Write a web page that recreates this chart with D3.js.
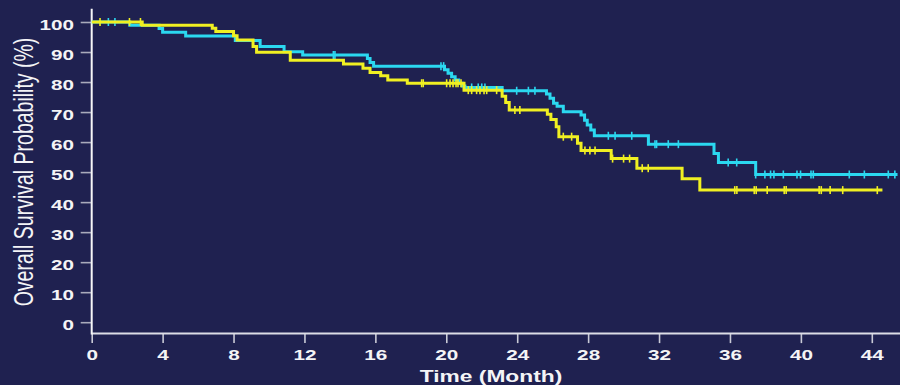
<!DOCTYPE html>
<html>
<head>
<meta charset="utf-8">
<script src="https://cdn.jsdelivr.net/npm/d3@7/dist/d3.min.js"></script>
<style>
  html, body { margin: 0; padding: 0; background: #1f2150; }
  svg { display: block; }
</style>
</head>
<body>
<svg id="km" width="900" height="385"></svg>
<script>
// Kaplan–Meier overall survival, two groups (cyan and yellow curves)

// Axis ticks
const xTicks = [0, 4, 8, 12, 16, 20, 24, 28, 32, 36, 40, 44];
const yTicks = [0, 10, 20, 30, 40, 50, 60, 70, 80, 90, 100];

// Cyan group: event times (months) and survival (%) after each step
const cyanTimes = [0, 2.15, 3.8, 4.0, 5.3, 8.1, 9.5, 10.85, 11.9, 15.55, 15.7, 15.9,
  19.9, 20.1, 20.3, 20.5, 20.7, 20.9, 21.05, 23.15, 25.65, 25.85, 26.05, 26.25, 26.6,
  27.6, 27.8, 27.95, 28.15, 28.35, 31.4, 35.1, 35.35, 37.45];
const cyanSurv = [100, 98.9, 97.8, 96.6, 95.3, 93.8, 91.8, 90.1, 89.0, 87.8, 86.5, 85.3,
  84.1, 82.9, 81.8, 80.7, 79.6, 78.7, 78.2, 77.1, 76.0, 74.6, 72.9, 71.9, 70.1,
  69.0, 67.3, 65.7, 64.0, 62.1, 59.3, 56.2, 53.2, 49.2];
const cyanEnd = 45.45;
const cyanCensored = [0.94, 1.31, 13.63, 13.72, 19.7, 19.85, 21.43, 21.8, 22.0, 22.18,
  23.97, 24.63, 25.0, 29.14, 29.52, 30.46, 31.77, 31.86, 32.52, 33.09, 35.9, 36.38,
  37.45, 37.97, 38.29, 38.48, 39.01, 39.78, 39.98, 40.57, 40.7, 42.73, 43.58, 44.93, 45.3];

// Yellow group
const yellowTimes = [0, 2.85, 6.8, 7.0, 8.0, 8.2, 9.1, 9.3, 11.2, 14.2, 15.3, 15.7,
  16.3, 16.7, 17.8, 21.0, 23.15, 23.35, 23.55, 25.7, 25.9, 26.2, 26.35, 27.4, 27.6,
  29.3, 30.75, 33.3, 34.3];
const yellowSurv = [100, 98.9, 97.9, 96.8, 95.4, 94.0, 91.8, 89.9, 87.3, 86.0, 84.6, 83.2,
  82.1, 80.7, 79.6, 77.3, 75.3, 73.2, 70.7, 69.3, 67.5, 65.1, 61.8, 59.6, 57.2,
  54.5, 51.3, 47.8, 44.0];
const yellowEnd = 44.6;
const yellowCensored = [0.47, 2.13, 2.75, 18.61, 18.7, 20.02, 20.21, 20.38, 20.55, 20.66,
  20.83, 21.24, 21.43, 21.71, 21.9, 22.13, 22.28, 22.84, 23.87, 24.15, 26.6, 27.07,
  27.82, 28.1, 28.39, 29.38, 30.0, 30.34, 31.05, 31.39, 36.27, 36.39, 37.37, 37.48,
  38.1, 39.06, 39.17, 41.03, 41.15, 41.65, 42.36, 44.31];

const W = 900, H = 385;
const stretch = 1.38;           // text is drawn horizontally widened
const svg = d3.select("#km");

const x = d3.scaleLinear().domain([0, 44]).range([91.7, 871.8]);
const y = d3.scaleLinear().domain([0, 100]).range([322.2, 22]);
const axisY = y(-3.8);          // baseline of the x axis
const axisTop = y(104.4);

svg.append("rect").attr("width", W).attr("height", H).attr("fill", "#1f2150");

// ---- Axes ----
const font = "'Liberation Sans', Arial, Helvetica, sans-serif";

const gy = svg.append("g").attr("transform", `translate(${x(0)},0)`)
  .call(d3.axisLeft(y).tickValues(yTicks).tickSize(11).tickSizeOuter(0));
gy.select(".domain").remove();
gy.selectAll(".tick line").attr("stroke", "#a9aabb").attr("stroke-width", 1.6);
gy.selectAll(".tick text")
  .attr("x", -17.7 / stretch).attr("dy", null).attr("y", 7.6)
  .attr("transform", `scale(${stretch},1)`)
  .attr("fill", "#f4f4f6").attr("font-family", font)
  .attr("font-weight", "bold").attr("font-size", 15);

const gx = svg.append("g").attr("transform", `translate(0,${axisY})`)
  .call(d3.axisBottom(x).tickValues(xTicks).tickSize(9.5).tickSizeOuter(0));
gx.select(".domain").remove();
gx.selectAll(".tick line").attr("stroke", "#c9cad6").attr("stroke-width", 1.6);
gx.selectAll(".tick text")
  .attr("dy", null).attr("y", 26.4)
  .attr("transform", `scale(${stretch},1)`)
  .attr("fill", "#f4f4f6").attr("font-family", font)
  .attr("font-weight", "bold").attr("font-size", 15);
// keep labels centred on their ticks under the horizontal widening
gx.selectAll(".tick").each(function () {
  d3.select(this).select("text").attr("x", 0);
});

// axis lines
svg.append("line").attr("x1", x(0)).attr("x2", W).attr("y1", axisY).attr("y2", axisY)
  .attr("stroke", "#dcdde6").attr("stroke-width", 2);
svg.append("line").attr("x1", x(0)).attr("x2", x(0)).attr("y1", axisTop).attr("y2", axisY + 1)
  .attr("stroke", "#f6f6f8").attr("stroke-width", 2);

// axis titles
svg.append("text")
  .attr("transform", `translate(33.3,172) scale(${stretch},1) rotate(-90)`)
  .attr("text-anchor", "middle").attr("fill", "#f4f4f6")
  .attr("font-family", font).attr("font-size", 19.5)
  .text("Overall Survival Probability (%)");

svg.append("text")
  .attr("transform", `translate(491,382) scale(${stretch},1)`)
  .attr("text-anchor", "middle").attr("fill", "#f4f4f6")
  .attr("font-family", font).attr("font-weight", "bold").attr("font-size", 16.5)
  .text("Time (Month)");

// ---- Survival curves ----
function stepPoints(times, surv, end) {
  const pts = times.map((t, i) => [t, surv[i]]);
  pts.push([end, surv[surv.length - 1]]);
  return pts;
}
function survAt(times, surv, t) {
  const i = d3.bisectRight(times, t) - 1;
  return surv[Math.max(0, i)];
}

const line = d3.line().x(d => x(d[0])).y(d => y(d[1])).curve(d3.curveStepAfter);

const groups = [
  { times: cyanTimes, surv: cyanSurv, end: cyanEnd, cens: cyanCensored, color: "#2bd8f0" },
  { times: yellowTimes, surv: yellowSurv, end: yellowEnd, cens: yellowCensored, color: "#f0f022" }
];

groups.forEach(g => {
  svg.append("path")
    .attr("d", line(stepPoints(g.times, g.surv, g.end)))
    .attr("fill", "none").attr("stroke", g.color)
    .attr("stroke-width", 3).attr("stroke-linejoin", "miter");

  svg.append("g").selectAll("line").data(g.cens).join("line")
    .attr("x1", d => x(d)).attr("x2", d => x(d))
    .attr("y1", d => y(survAt(g.times, g.surv, d)) - 4)
    .attr("y2", d => y(survAt(g.times, g.surv, d)) + 4)
    .attr("stroke", g.color).attr("stroke-width", 1.6);
});
</script>
</body>
</html>
